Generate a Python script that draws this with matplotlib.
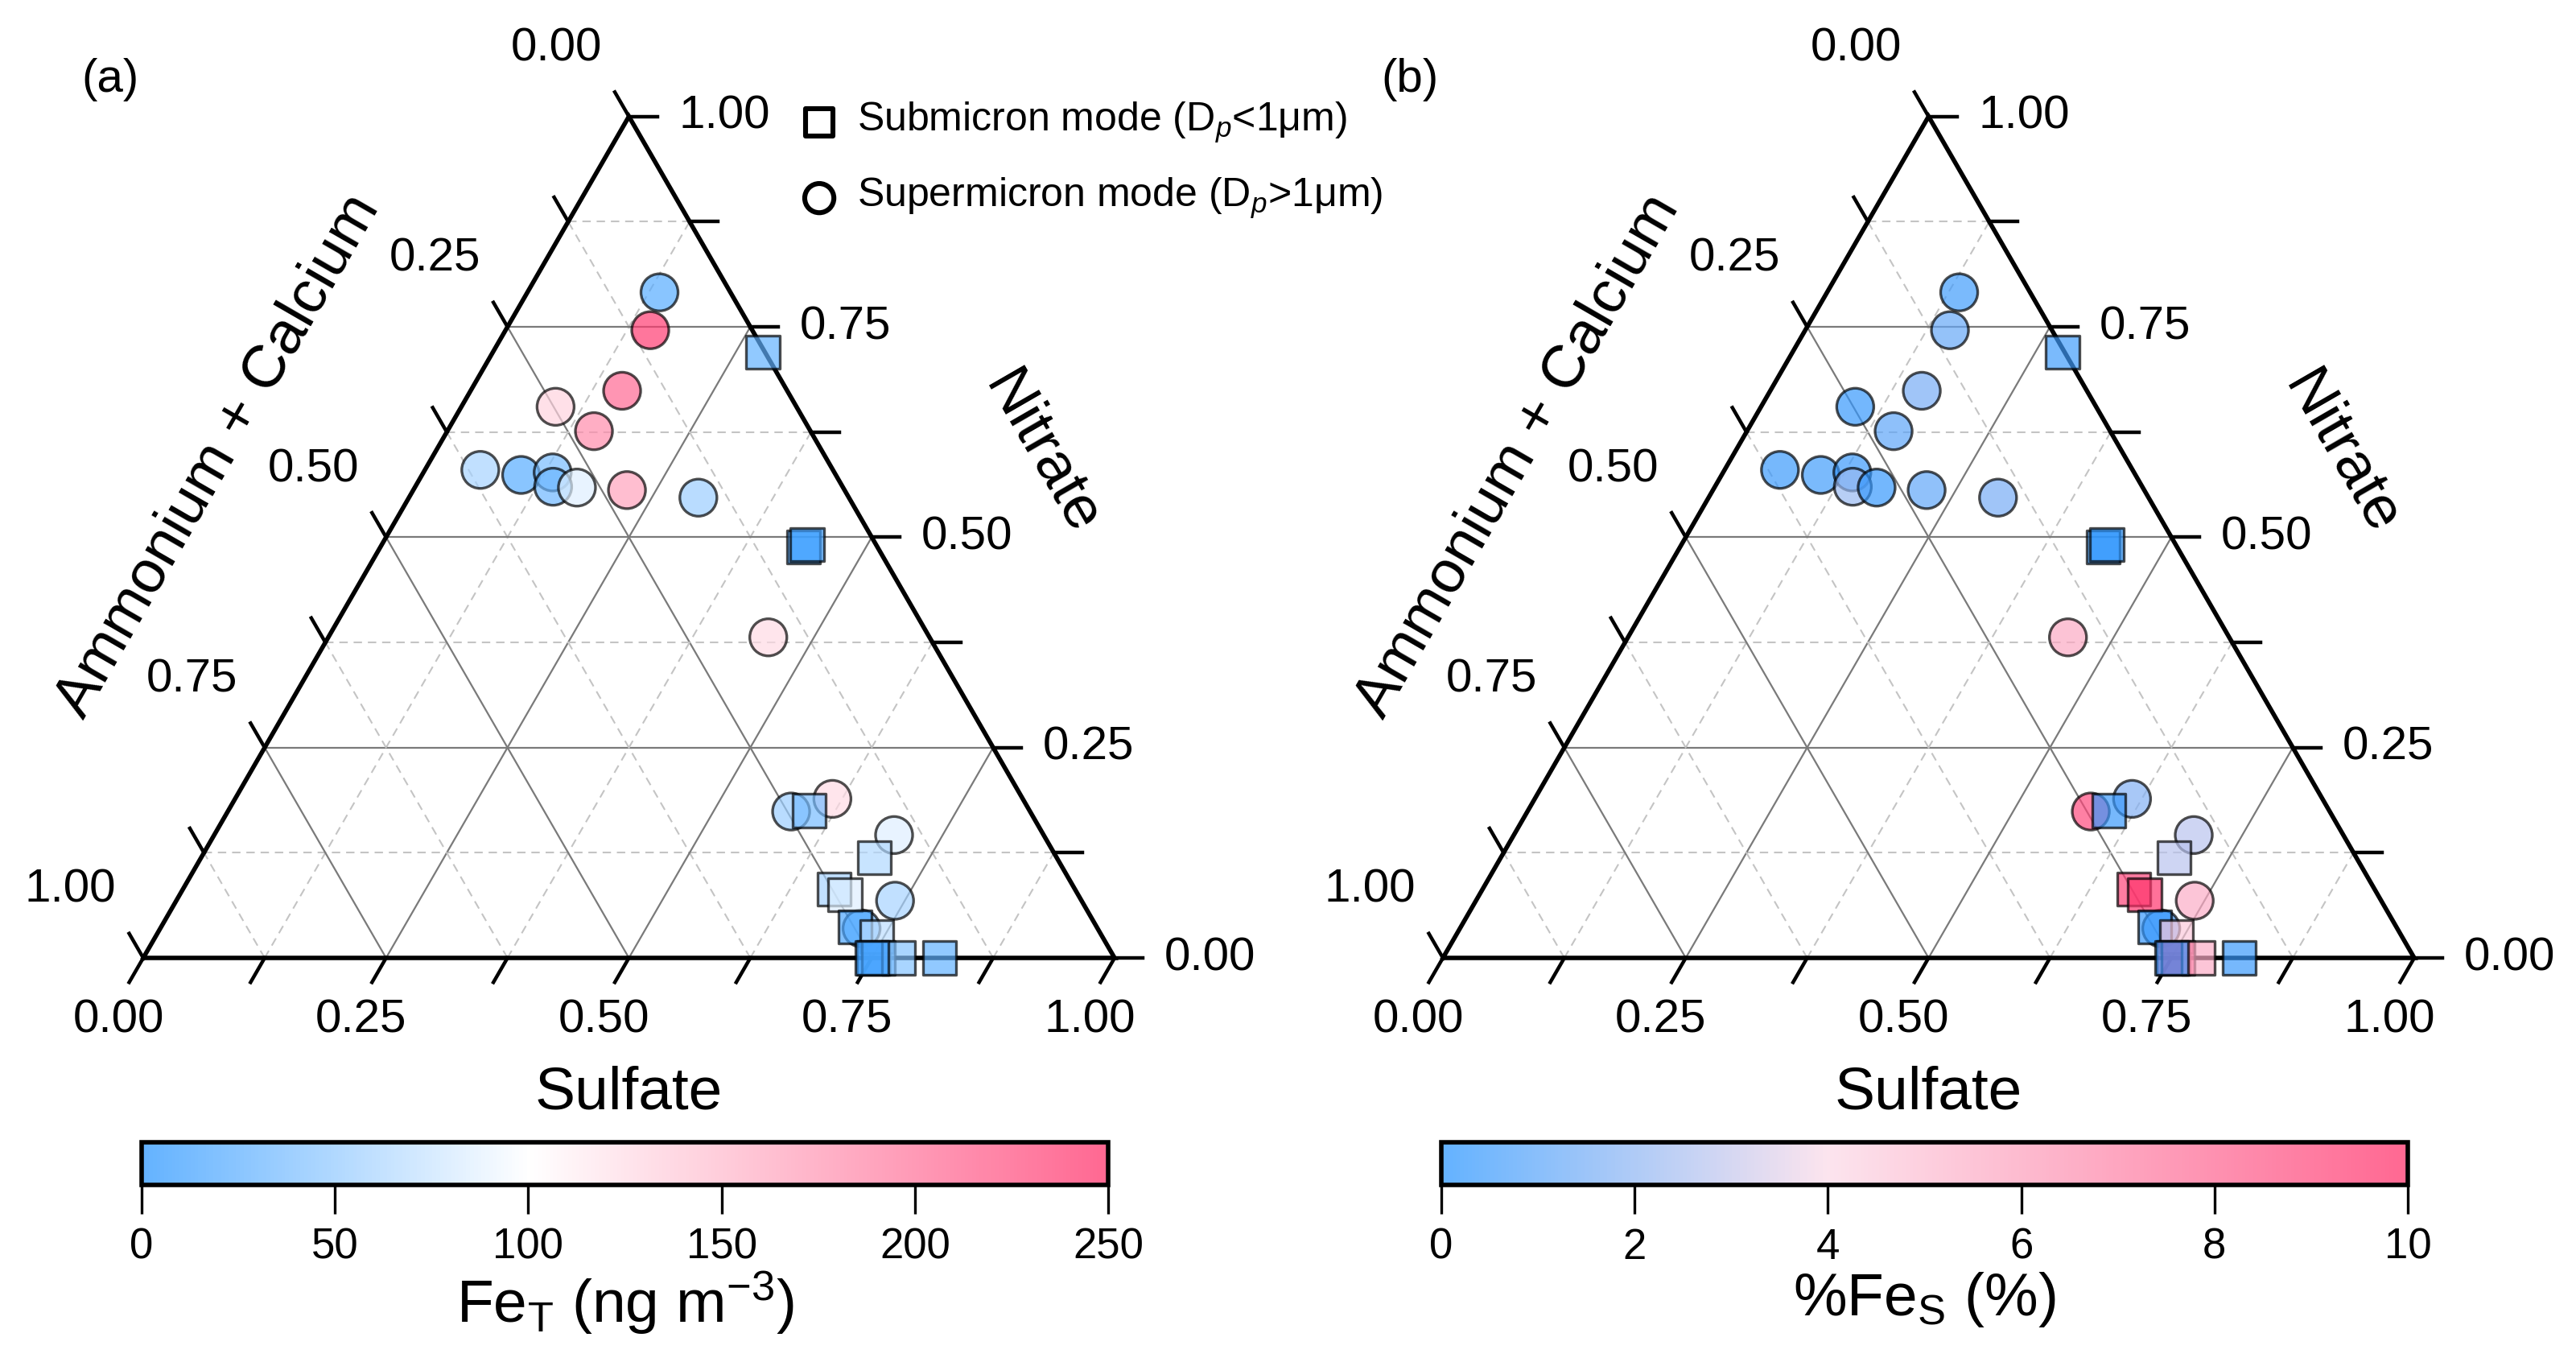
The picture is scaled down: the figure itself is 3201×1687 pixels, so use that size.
import numpy as np
import matplotlib
matplotlib.use('Agg')
import matplotlib.pyplot as plt
from matplotlib.colors import LinearSegmentedColormap, Normalize
from matplotlib.cm import ScalarMappable

plt.rcParams['font.family'] = ['Liberation Sans', 'DejaVu Sans']
plt.rcParams['mathtext.fontset'] = 'custom'
plt.rcParams['mathtext.rm'] = 'Liberation Sans'
plt.rcParams['mathtext.it'] = 'Liberation Sans:italic'

# --- data: ternary fractions (sulfate, nitrate; ammonium+calcium = rest) ---
circ_sulfate = [0.136, 0.149, 0.156, 0.097, 0.151, 0.057, 0.102, 0.133, 0.142,
                0.167, 0.220, 0.298, 0.453, 0.580, 0.615, 0.700, 0.740, 0.722]
circ_nitrate = [0.791, 0.746, 0.674, 0.655, 0.626, 0.580, 0.574, 0.577, 0.560,
                0.559, 0.556, 0.547, 0.381, 0.174, 0.189, 0.146, 0.068, 0.035]
circ_fe_t = [25, 235, 205, 130, 180, 60, 25, 40, 35,
             85, 165, 55, 125, 55, 125, 85, 60, 40]
circ_fe_s = [0.6, 1.3, 1.6, 0.4, 1.1, 0.5, 0.6, 0.5, 2.2,
             0.4, 1.2, 1.6, 5.6, 8.8, 1.8, 2.8, 5.5, 0.8]

sq_sulfate = [0.278, 0.436, 0.438, 0.598, 0.693, 0.670, 0.685, 0.714, 0.743,
              0.752, 0.757, 0.7775, 0.820, 0.750]
sq_nitrate = [0.720, 0.488, 0.491, 0.175, 0.119, 0.082, 0.075, 0.037, 0.025,
              0.0, 0.0, 0.0, 0.0, 0.0]
sq_fe_t = [30, 10, 15, 40, 65, 60, 85, 20, 70, 20, 30, 45, 30, 15]
sq_fe_s = [0.6, 0.3, 0.3, 0.5, 2.8, 9.0, 9.5, 0.4, 4.5, 8.0, 9.0, 5.5, 0.5, 0.5]

tick_values = [0.0, 0.25, 0.5, 0.75, 1.0]
fe_t_ticks = [0, 50, 100, 150, 200, 250]
fe_s_ticks = [0, 2, 4, 6, 8, 10]

ALPHA = 0.69
BLUE = (30/255, 144/255, 1.0)
PINK = (1.0, 36/255, 97/255)
SQ3 = np.sqrt(3) / 2
W, H = 3201, 1687
U = 1207.0          # pixels per ternary unit
X0_A, Y0 = 178.0, 497.0
SHIFT_B = 1615.0


def tern(s, n):
    s = np.asarray(s, float)
    n = np.asarray(n, float)
    return s + n / 2, n * SQ3


def blend(anchors):
    # same colour seen through ALPHA on white, for the colour bar
    out = []
    for pos, c in anchors:
        c = np.array(c[:3])
        out.append((pos, tuple(c * ALPHA + (1 - ALPHA))))
    return out


anch_t = [(0.0, BLUE), (0.4, (1.0, 1.0, 1.0)), (1.0, PINK)]
anch_s = [(0.0, BLUE), (0.4, (251/255, 216/255, 230/255)), (1.0, PINK)]
cmap_t = LinearSegmentedColormap.from_list('fet', anch_t)
cmap_s = LinearSegmentedColormap.from_list('fes', anch_s)
cmap_t_bar = LinearSegmentedColormap.from_list('fet_bar', blend(anch_t))
cmap_s_bar = LinearSegmentedColormap.from_list('fes_bar', blend(anch_s))


def make_axes(fig, x0):
    xl, xr = -0.14, 1.15
    yb, yt = -0.25, 0.98
    left = x0 + xl * U
    bottom = Y0 + yb * U
    ax = fig.add_axes([left / W, bottom / H, (xr - xl) * U / W, (yt - yb) * U / H])
    ax.set_xlim(xl, xr)
    ax.set_ylim(yb, yt)
    ax.set_axis_off()
    return ax


def draw_frame(ax):
    for k in range(1, 8):
        v = k / 8
        if k % 2 == 0:
            kw = dict(color='#7a7a7a', lw=0.8, ls='-')
        else:
            kw = dict(color='#c4c4c4', lw=0.75, ls=(0, (5, 3.5)))
        for s, n in (([0, 1 - v], [v, v]), ([v, v], [0, 1 - v]), ([1 - v, 0], [0, 1 - v])):
            x, y = tern(s, n)
            ax.plot(x, y, zorder=1, **kw)
    x, y = tern([0, 1, 0, 0], [0, 0, 1, 0])
    ax.plot(x, y, color='k', lw=2.0, zorder=2, solid_joinstyle='miter')

    L = 0.029
    for k in range(9):
        v = k / 8
        bx, by = tern(v, 0)
        ax.plot([bx, bx - 0.5 * L], [by, by - SQ3 * L], color='k', lw=1.6)
        rx, ry = tern(1 - v, v)
        ax.plot([rx, rx + L], [ry, ry], color='k', lw=1.6)
        lx, ly = tern(0, 1 - v)
        ax.plot([lx, lx - 0.5 * L], [ly, ly + SQ3 * L], color='k', lw=1.6)

    for v in tick_values:
        lab = f'{v:.2f}'
        bx, by = tern(v, 0)
        ax.text(bx - 0.0255, by - 0.0646, lab, ha='center', va='center', fontsize=21)
        rx, ry = tern(1 - v, v)
        ax.text(rx + 0.051, ry, lab, ha='left', va='center', fontsize=21)
        lx, ly = tern(0, 1 - v)
        ax.text(lx - 0.0748, ly + 0.0697, lab, ha='center', va='center', fontsize=21)

    ax.text(0.5, -0.139, 'Sulfate', ha='center', va='center', fontsize=27)
    ax.text(0.925, 0.519, 'Nitrate', ha='center', va='center', fontsize=27, rotation=-60)
    ax.text(0.0766, 0.517, 'Ammonium + Calcium', ha='center', va='center',
            fontsize=27, rotation=60)


def draw_points(ax, cvals, sqvals, cmap, norm):
    x, y = tern(circ_sulfate, circ_nitrate)
    ax.scatter(x, y, c=cvals, cmap=cmap, norm=norm, marker='o', s=275,
               alpha=ALPHA, edgecolors='k', linewidths=1.2, zorder=3)
    x, y = tern(sq_sulfate, sq_nitrate)
    ax.scatter(x, y, c=sqvals, cmap=cmap, norm=norm, marker='s', s=220,
               alpha=ALPHA, edgecolors='k', linewidths=1.2, zorder=4)


def draw_colorbar(fig, x0, cmap, norm, ticks, label):
    cax = fig.add_axes([(x0 - 2) / W, (H - 1472) / H, 1201 / W, 53 / H])
    cb = fig.colorbar(ScalarMappable(norm=norm, cmap=cmap), cax=cax,
                      orientation='horizontal')
    cb.set_ticks(ticks)
    cb.outline.set_linewidth(2)
    cax.tick_params(length=13, width=1.2, labelsize=19, pad=6)
    cb.set_label(label, fontsize=27, labelpad=1)


fig = plt.figure(figsize=(W / 200, H / 200), dpi=200)

norm_t = Normalize(0, 250)
norm_s = Normalize(0, 10)

ax_a = make_axes(fig, X0_A)
draw_frame(ax_a)
draw_points(ax_a, circ_fe_t, sq_fe_t, cmap_t, norm_t)
ax_a.text(-0.034, 0.904, '(a)', ha='center', va='center', fontsize=21)

# legend for marker shapes
ax_a.scatter([0.696], [0.860], marker='s', s=150, facecolors='none',
             edgecolors='k', linewidths=2.2, zorder=5)
ax_a.scatter([0.696], [0.782], marker='o', s=170, facecolors='none',
             edgecolors='k', linewidths=2.2, zorder=5)
ax_a.text(0.735, 0.860, r'Submicron mode (D$_{\mathit{p}}$<1μm)', ha='left',
          va='center', fontsize=18)
ax_a.text(0.735, 0.782, r'Supermicron mode (D$_{\mathit{p}}$>1μm)', ha='left',
          va='center', fontsize=18)

ax_b = make_axes(fig, X0_A + SHIFT_B)
draw_frame(ax_b)
draw_points(ax_b, circ_fe_s, sq_fe_s, cmap_s, norm_s)
ax_b.text(-0.034, 0.904, '(b)', ha='center', va='center', fontsize=21)

draw_colorbar(fig, X0_A, cmap_t_bar, norm_t, fe_t_ticks,
              r'Fe$_\mathregular{T}$ (ng m$^{\mathregular{-3}}$)')
draw_colorbar(fig, X0_A + SHIFT_B, cmap_s_bar, norm_s, fe_s_ticks,
              r'%Fe$_\mathregular{S}$ (%)')

fig.savefig('out.png', dpi=200)
